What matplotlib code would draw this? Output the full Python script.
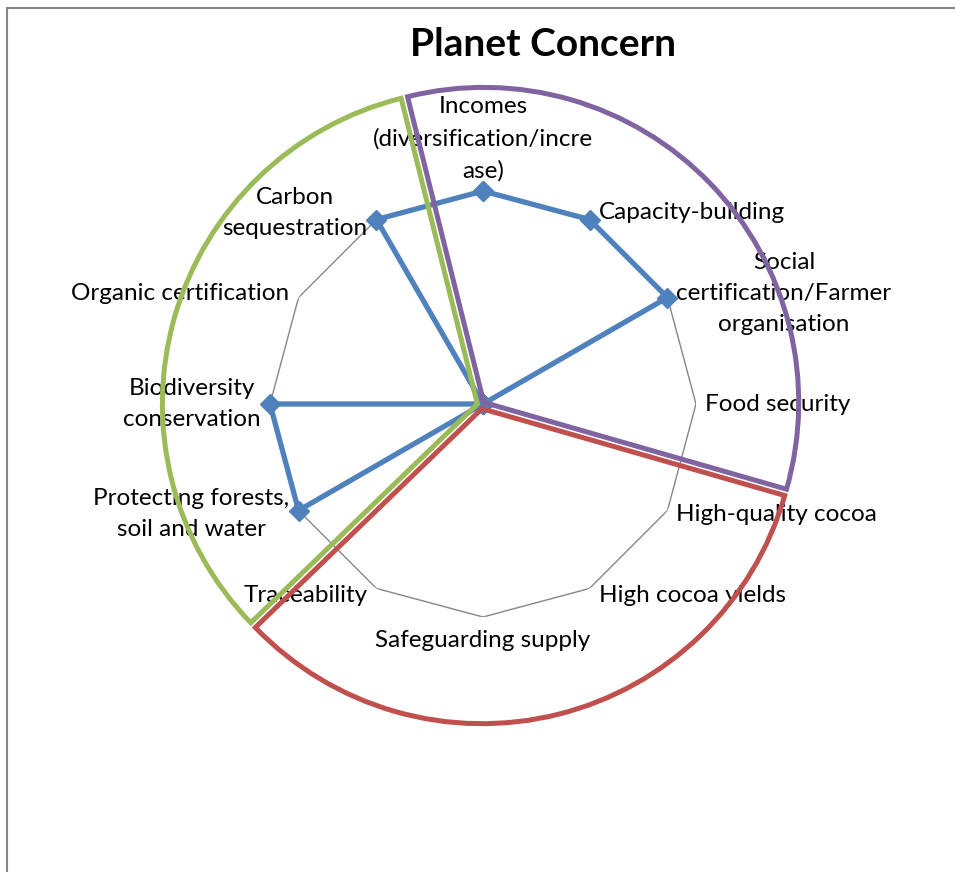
import numpy as np
import matplotlib
matplotlib.use("Agg")
import matplotlib.pyplot as plt
from matplotlib.patches import Rectangle

plt.rcParams["font.family"] = ["Lato", "DejaVu Sans"]

# radar categories, clockwise from the top
categories = [
    "Incomes\n(diversification/incre\nase)",
    "Capacity-building",
    "Social\ncertification/Farmer\norganisation",
    "Food security",
    "High-quality cocoa",
    "High cocoa yields",
    "Safeguarding supply",
    "Traceability",
    "Protecting forests,\nsoil and water",
    "Biodiversity\nconservation",
    "Organic certification",
    "Carbon\nsequestration",
]
values = [1, 1, 1, 0, 0, 0, 0, 0, 1, 1, 0, 1]
scale_max = 1

# three concern groups drawn as an outlined pie on top
group_shares = [1, 1, 1]
group_colors = ["#8064A2", "#C0504D", "#9BBB59"]

BLUE = "#4F81BD"
GRID = "#868686"

W, H = 955, 872
fig = plt.figure(figsize=(W / 100, H / 100), dpi=100)

# outer chart frame (open at right/bottom edge)
fig.patches.append(Rectangle((7 / W, -0.1), 1.2, 1.1 - 8 / H, transform=fig.transFigure,
                             fill=False, edgecolor=GRID, lw=1.5))

fig.text(543 / W, 1 - 45 / H, "Planet Concern", ha="center", va="center",
         fontsize=28, fontweight="bold")

# radar
cx, cy, r = 483 / W, 1 - 404 / H, 213
ax = fig.add_axes([cx - r / W, cy - r / H, 2 * r / W, 2 * r / H], projection="polar")
ax.set_theta_zero_location("N")
ax.set_theta_direction(-1)
ax.set_ylim(0, scale_max)
ax.set_xticks([]); ax.set_yticks([])
ax.grid(False)
ax.spines["polar"].set_visible(False)
ax.patch.set_visible(False)

n = len(categories)
ang = np.linspace(0, 2 * np.pi, n, endpoint=False)
ring = np.append(ang, ang[0])
ax.plot(ring, [scale_max] * (n + 1), color=GRID, lw=1, zorder=1)
vals = np.append(values, values[0])
ax.plot(ring, vals, color=BLUE, lw=3.8, marker="D", ms=10, zorder=3, clip_on=False)

for a, lab in zip(ang, categories):
    s, c = np.sin(a), np.cos(a)
    if abs(s) < 0.01:
        ha = "center"
        va = "bottom" if c > 0 else "top"
        dx, dy = 0, (7 if c > 0 else -9)
    else:
        ha = "left" if s > 0 else "right"
        va = "center"
        dx, dy = 6.5 * np.sign(s), 5.5 * c
    ax.annotate(lab, xy=(a, scale_max), xytext=(dx, dy), textcoords="offset points",
                ha=ha, va=va, multialignment="center", fontsize=17.5, linespacing=1.6,
                annotation_clip=False, zorder=4)

# outlined pie of the three groups
pr = 315
px, py = 481 / W, 1 - 405 / H
pax = fig.add_axes([px - pr / W, py - pr / H, 2 * pr / W, 2 * pr / H])
pax.pie(group_shares, startangle=104, counterclock=False, radius=1,
        explode=[0.012] * 3,
        wedgeprops=dict(fill=False, lw=3.6, joinstyle="miter"), colors=group_colors)
for w, col in zip(pax.patches, group_colors):
    w.set_edgecolor(col)
pax.set_xlim(-1, 1); pax.set_ylim(-1, 1)
pax.set_aspect("auto")
pax.axis("off")

fig.savefig("out.png", dpi=100)
